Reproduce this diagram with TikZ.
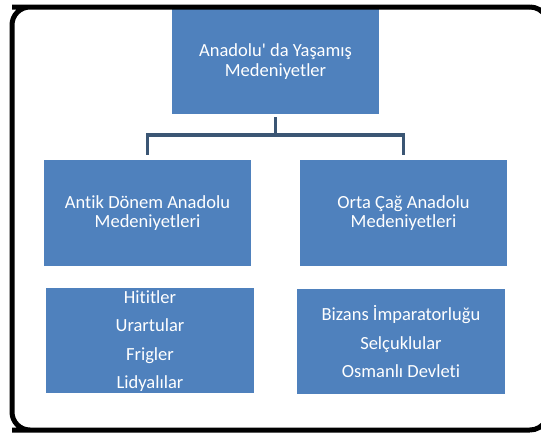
\documentclass[tikz,border=0pt]{standalone}
\usepackage{fontspec}
\newfontfamily\calfont[Ligatures=NoCommon]{Carlito}
\definecolor{boxblue}{HTML}{4F81BD}
\definecolor{connblue}{HTML}{3B5674}
\begin{document}
\begin{tikzpicture}[x=1pt,y=-1pt,
  box/.style={fill=boxblue, draw=none, inner sep=0pt, align=center, text=white},
  twoline/.style={font=\calfont\fontsize{18.5}{19.5}\selectfont},
  listtext/.style={font=\calfont\fontsize{18.5}{28.5}\selectfont},
  conn/.style={draw=connblue, line width=3.6pt, line join=miter}]
\useasboundingbox (0,0) rectangle (541,432);
\fill[white] (0,0) rectangle (541,432);
\begin{scope}
\clip (0,0) rectangle (541,432);
\node[box, twoline, minimum width=207pt, minimum height=105pt] (top) at (275.5,61.5)
  {Anadolu' da Yaşamış\\Medeniyetler};
\node[box, twoline, minimum width=207pt, minimum height=106pt] (ml) at (147.5,213)
  {Antik Dönem Anadolu\\Medeniyetleri};
\node[box, twoline, minimum width=207pt, minimum height=106pt] (mr) at (403.5,213)
  {Orta Çağ Anadolu\\Medeniyetleri};
\node[box, minimum width=208pt, minimum height=105pt] (bl) at (150,340.5) {};
\node[listtext, text=white, align=center, inner sep=0pt] (bltext) at (150,341)
  {Hititler\\Urartular\\Frigler\\Lidyalılar};
\node[box, minimum width=208pt, minimum height=105pt] (br) at (401,341.5) {};
\node[listtext, text=white, align=center, inner sep=0pt] (brtext) at (401,342)
  {Bizans İmparatorluğu\\Selçuklular\\Osmanlı Devleti};
\coordinate (bus) at (275.5,135);
\draw[conn, shorten <=3pt] (top.south) -- (top.south |- bus);
\draw[conn, shorten <=5pt, shorten >=5pt] (ml.north) -- (ml.north |- bus) -- (mr.north |- bus) -- (mr.north);
\draw[line width=5pt, rounded corners=18pt] (530,7) -- (30,7) -- (12,7) -- (12,430) -- (30,430) -- (530,430);
\draw[line width=5pt] (530,7) arc[start angle=90, end angle=30, radius=18pt];
\draw[line width=5pt] (530,430) arc[start angle=-90, end angle=-30, radius=18pt];
\end{scope}
\end{tikzpicture}
\end{document}
